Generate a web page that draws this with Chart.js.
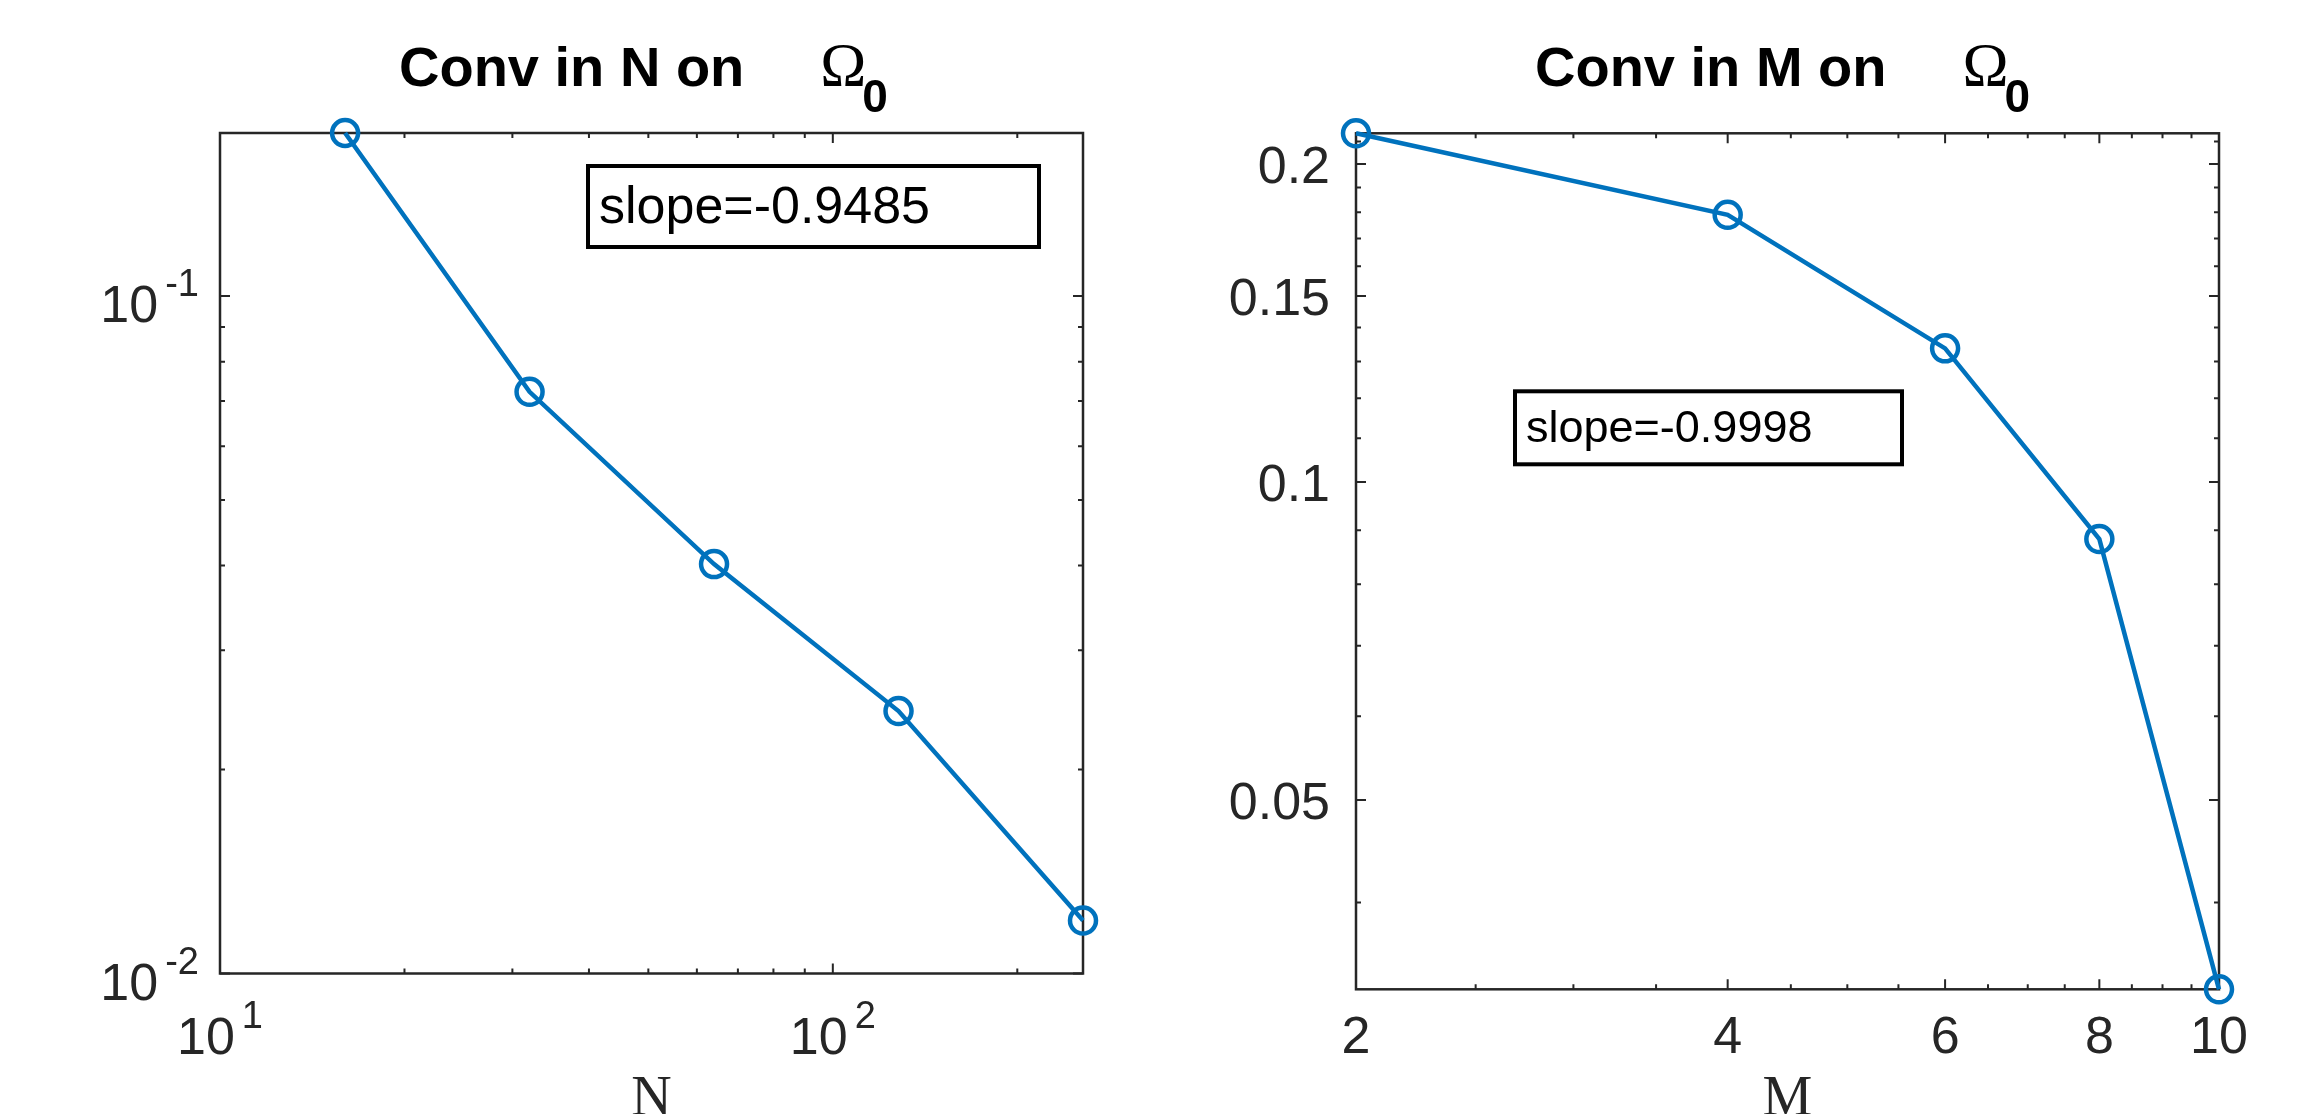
<!DOCTYPE html>
<html>
<head>
<meta charset="utf-8">
<script src="https://cdn.jsdelivr.net/npm/chart.js@4/dist/chart.umd.min.js"></script>
<style>
    html, body { margin: 0; padding: 0; background: #fff; }
    .panel { position: absolute; top: 0; }
    #left { left: 0; }
    #right { left: 1152px; }
</style>
</head>
<body>
<div class="panel" id="left"><canvas id="chartN" width="1152" height="1114"></canvas></div>
<div class="panel" id="right"><canvas id="chartM" width="1153" height="1114"></canvas></div>
<script>
// error vs N (log-log)
const nValues = [16, 32, 64, 128, 256];
const errN = [0.174, 0.0722, 0.0402, 0.0244, 0.01197];

// error vs M (log-log)
const mValues = [2, 4, 6, 8, 10];
const errM = [0.2138, 0.179, 0.1338, 0.0883, 0.0331];

// ticks
const nTicks = [10, 100];
const nMinorTicks = [20, 30, 40, 50, 60, 70, 80, 90, 200];
const nErrTicks = [0.01, 0.1];
const nErrMinorTicks = [0.02, 0.03, 0.04, 0.05, 0.06, 0.07, 0.08, 0.09];
const mTicks = [2, 4, 6, 8, 10];
const mMinorTicks = [2.5, 3, 3.5, 4.5, 5, 5.5, 6.5, 7, 7.5, 8.5, 9, 9.5];
const mErrTicks = [0.05, 0.1, 0.15, 0.2];
const mErrMinorTicks = [0.04, 0.06, 0.07, 0.08, 0.09, 0.11, 0.12, 0.13, 0.14, 0.16, 0.17, 0.18, 0.19, 0.21];

const AXIS_COLOR = '#262626';
const BLUE = '#0072BD';
const SANS = '"Liberation Sans", Arial, Helvetica, sans-serif';
const SERIF = '"Liberation Serif", "Times New Roman", serif';

// "10" with raised exponent
function drawPower(ctx, exp, x, y, align) {
    ctx.font = '52px ' + SANS;
    const wb = ctx.measureText('10').width;
    ctx.font = '38px ' + SANS;
    const ws = ctx.measureText(exp).width;
    const gap = 7;
    const total = wb + gap + ws;
    const x0 = align === 'right' ? x - total : x - total / 2;
    ctx.textAlign = 'left';
    ctx.font = '52px ' + SANS;
    ctx.fillText('10', x0, y);
    ctx.font = '38px ' + SANS;
    ctx.fillText(exp, x0 + wb + gap, y - 26);
}

function makeAxesPlugin(cfg) {
    return {
        id: 'matlabAxes',
        beforeDatasetsDraw(chart) {
            const { ctx, chartArea: a } = chart;
            const xs = chart.scales.x, ys = chart.scales.y;
            ctx.save();
            ctx.strokeStyle = AXIS_COLOR;
            ctx.lineWidth = 2;
            const tickX = (vals, len) => vals.forEach(v => {
                const px = xs.getPixelForValue(v);
                ctx.beginPath();
                ctx.moveTo(px, a.bottom); ctx.lineTo(px, a.bottom - len);
                ctx.moveTo(px, a.top); ctx.lineTo(px, a.top + len);
                ctx.stroke();
            });
            const tickY = (vals, len) => vals.forEach(v => {
                const py = ys.getPixelForValue(v);
                ctx.beginPath();
                ctx.moveTo(a.left, py); ctx.lineTo(a.left + len, py);
                ctx.moveTo(a.right, py); ctx.lineTo(a.right - len, py);
                ctx.stroke();
            });
            tickX(cfg.xMinor, 5);
            tickX(cfg.xMajor, 10);
            tickY(cfg.yMinor, 5);
            tickY(cfg.yMajor, 10);

            ctx.lineWidth = 2.5;
            ctx.strokeRect(a.left, a.top, a.right - a.left, a.bottom - a.top);

            // tick labels
            ctx.fillStyle = AXIS_COLOR;
            ctx.textBaseline = 'alphabetic';
            if (cfg.power) {
                cfg.yMajor.forEach(v => {
                    const py = ys.getPixelForValue(v);
                    drawPower(ctx, String(Math.round(Math.log10(v))), a.left - 21, py + 26, 'right');
                });
                cfg.xMajor.forEach(v => {
                    const px = xs.getPixelForValue(v);
                    drawPower(ctx, String(Math.round(Math.log10(v))), px, a.bottom + 80.5, 'center');
                });
            } else {
                ctx.font = '52px ' + SANS;
                ctx.textAlign = 'right';
                cfg.yMajor.forEach(v => {
                    ctx.fillText(String(v), a.left - 26, ys.getPixelForValue(v) + 19);
                });
                ctx.textAlign = 'center';
                cfg.xMajor.forEach(v => {
                    ctx.fillText(String(v), xs.getPixelForValue(v), a.bottom + 64);
                });
            }
            ctx.restore();
        },
        afterDraw(chart) {
            const { ctx, chartArea: a } = chart;
            ctx.save();
            ctx.fillStyle = '#000';
            ctx.textBaseline = 'alphabetic';

            // title: text, then Omega with subscript 0
            ctx.textAlign = 'left';
            ctx.font = 'bold 56px ' + SANS;
            let tx = a.left + 179;
            ctx.fillText(cfg.title, tx, 86);
            tx += ctx.measureText(cfg.title).width + 76;
            ctx.font = '62px ' + SERIF;
            ctx.fillText('\u03A9', tx, 85);
            tx += ctx.measureText('\u03A9').width - 4;
            ctx.font = 'bold 46px ' + SANS;
            ctx.fillText('0', tx, 112);

            // x axis label
            ctx.font = '56px ' + SERIF;
            ctx.textAlign = 'center';
            ctx.fillStyle = AXIS_COLOR;
            ctx.fillText(cfg.xLabel, (a.left + a.right) / 2, 1115);

            // slope annotation box
            const n = cfg.note;
            const bx = a.left + n.dx, by = a.top + n.dy;
            ctx.strokeStyle = '#000';
            ctx.lineWidth = 4;
            ctx.strokeRect(bx + 2, by + 2, n.w - 4, n.h - 4);
            ctx.fillStyle = '#000';
            ctx.textAlign = 'left';
            ctx.font = n.size + 'px ' + SANS;
            ctx.fillText(n.text, bx + 13, by + n.base);
            ctx.restore();
        }
    };
}

function CreateChart(canvasId, xs, ys, xRange, yRange, padding, cfg) {
    const ctx = document.getElementById(canvasId);
    new Chart(ctx, {
        type: 'line',
        data: {
            datasets: [{
                data: xs.map((x, i) => ({ x: x, y: ys[i] })),
                borderColor: BLUE,
                borderWidth: 4.5,
                pointStyle: 'circle',
                pointRadius: 13,
                pointHoverRadius: 13,
                pointBorderWidth: 4.5,
                pointBorderColor: BLUE,
                pointBackgroundColor: 'rgba(0,0,0,0)',
                tension: 0,
                clip: false
            }]
        },
        options: {
            responsive: false,
            animation: false,
            events: [],
            layout: { padding: padding },
            scales: {
                x: { type: 'logarithmic', min: xRange[0], max: xRange[1], bounds: 'data', display: false },
                y: { type: 'logarithmic', min: yRange[0], max: yRange[1], bounds: 'data', display: false }
            },
            plugins: {
                legend: { display: false },
                tooltip: { enabled: false }
            }
        },
        plugins: [makeAxesPlugin(cfg)]
    });
}

CreateChart('chartN', nValues, errN, [10, 256], [0.01, 0.174],
    { left: 220, top: 133, right: 69, bottom: 140.5 },
    {
        xMajor: nTicks, xMinor: nMinorTicks, yMajor: nErrTicks, yMinor: nErrMinorTicks,
        power: true, title: 'Conv in N on', xLabel: 'N',
        note: { text: 'slope=-0.9485', dx: 366, dy: 31, w: 455, h: 85, size: 52, base: 58.7 }
    });

CreateChart('chartM', mValues, errM, [2, 10], [0.0331, 0.2138],
    { left: 204, top: 133.3, right: 86, bottom: 124.7 },
    {
        xMajor: mTicks, xMinor: mMinorTicks, yMajor: mErrTicks, yMinor: mErrMinorTicks,
        power: false, title: 'Conv in M on', xLabel: 'M',
        note: { text: 'slope=-0.9998', dx: 157, dy: 256, w: 391, h: 77, size: 45, base: 52.7 }
    });
</script>
</body>
</html>
